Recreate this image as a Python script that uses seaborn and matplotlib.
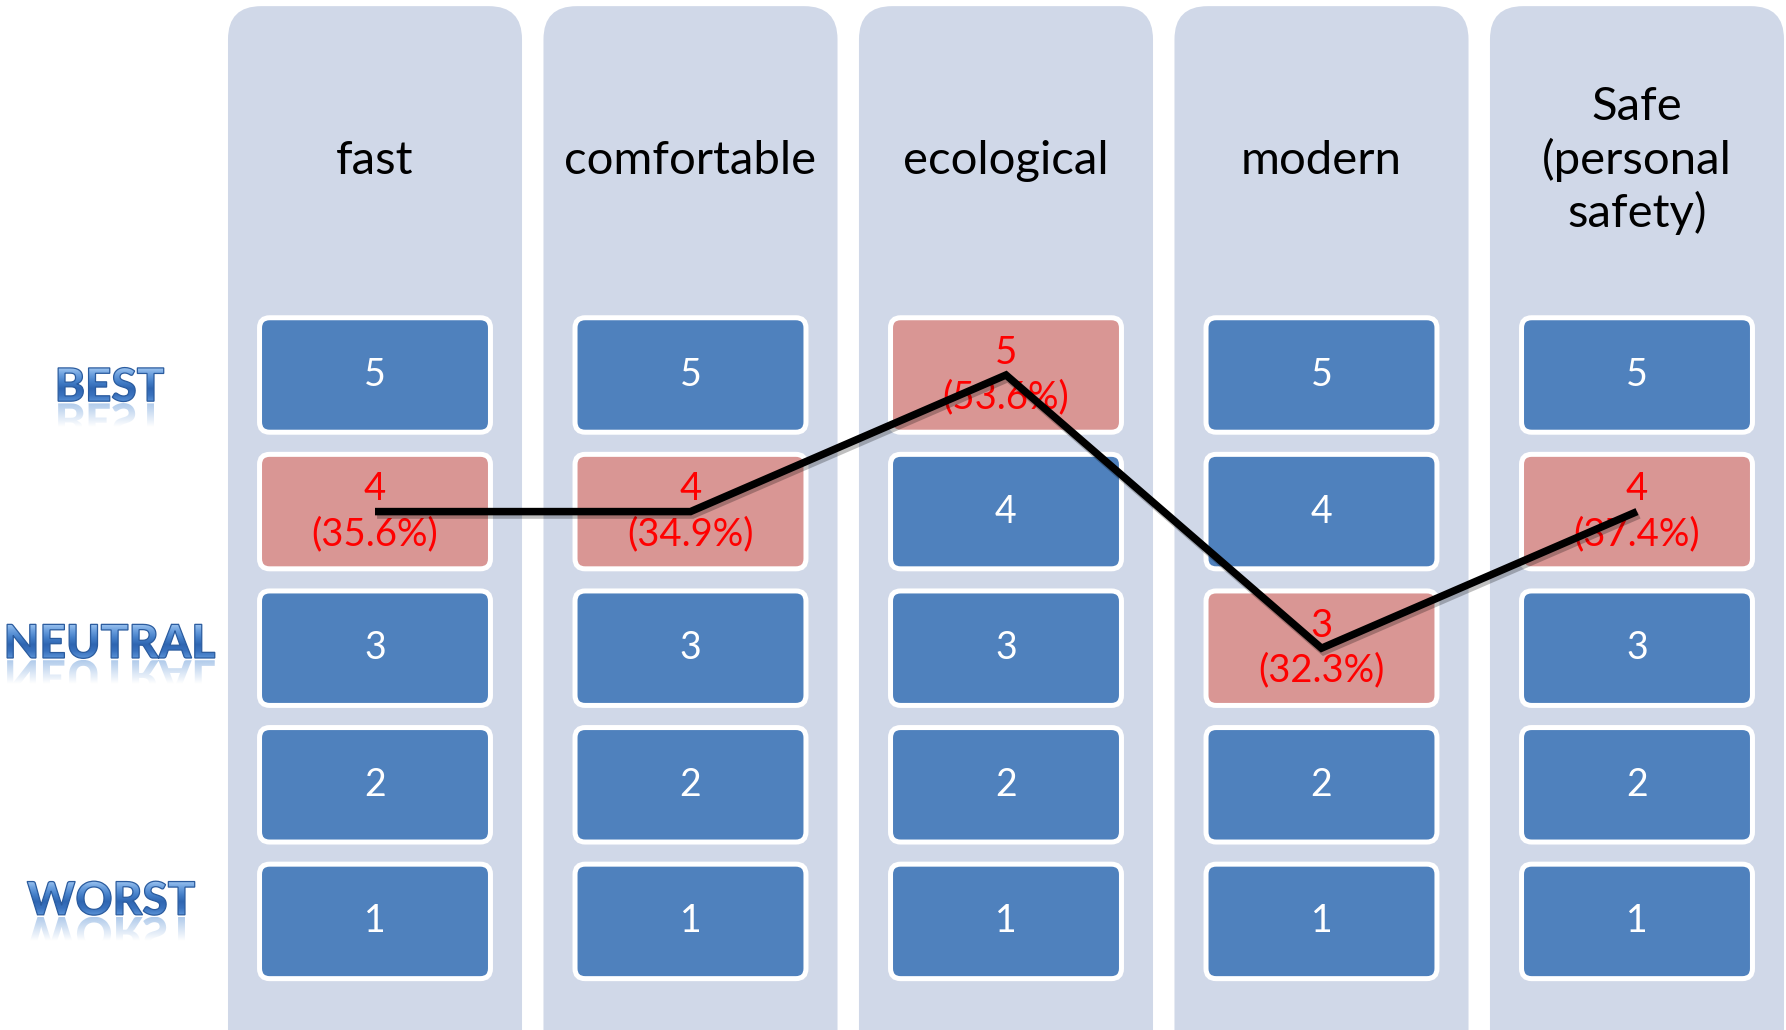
import numpy as np
import pandas as pd
import matplotlib
matplotlib.use("Agg")
import matplotlib.pyplot as plt
import seaborn as sns
from matplotlib.patches import FancyBboxPatch, PathPatch
from matplotlib.textpath import TextPath
from matplotlib.font_manager import FontProperties
from matplotlib.colors import LinearSegmentedColormap, to_rgb
import matplotlib.transforms as mtransforms
import matplotlib.patheffects as pe

# ---- data -------------------------------------------------------------
categories = ["fast", "comfortable", "ecological", "modern", "Safe\n(personal\nsafety)"]
scale_points = [1, 2, 3, 4, 5]
top_rating = [4, 4, 5, 3, 4]            # most frequent rating per attribute
top_share = [35.6, 34.9, 53.6, 32.3, 37.4]  # share of respondents (%)
scale_labels = ["BEST", "NEUTRAL", "WORST"]
scale_label_levels = [4.93, 3.05, 1.17]

# ---- style ------------------------------------------------------------
PANEL = "#D0D8E8"
BLUE = "#4F81BD"
PINK = "#D99694"
RED = "#FF0000"

sns.set_theme(style="white")
plt.rcParams["font.family"] = ["Lato", "DejaVu Sans"]

W, H, DPI = 17.86, 10.30, 100
XLIM = (-1.1886, 4.4723)
YLIM = (0.205, 7.745)

fig = plt.figure(figsize=(W, H), dpi=DPI)
ax = fig.add_axes([0, 0, 1, 1])
ax.set_xlim(*XLIM)
ax.set_ylim(*YLIM)
ax.axis("off")

# pixel size of one data unit, used to keep rounded corners circular
px_x = W * DPI / (XLIM[1] - XLIM[0])
px_y = H * DPI / (YLIM[1] - YLIM[0])
aspect = px_x / px_y

# ---- column panels and rating cells -------------------------------------
for i, cat in enumerate(categories):
    ax.add_patch(FancyBboxPatch((i - 0.466, -0.3), 0.932, 8.0,
                                boxstyle="round,pad=0,rounding_size=0.105",
                                mutation_aspect=aspect, fc=PANEL, ec="none", zorder=1))
    ax.text(i, 6.57, cat, ha="center", va="center", fontsize=34, color="black",
            linespacing=1.27, zorder=3)
    for p in scale_points:
        hit = p == top_rating[i]
        ax.add_patch(FancyBboxPatch((i - 0.366, p - 0.419), 0.732, 0.838,
                                    boxstyle="round,pad=0,rounding_size=0.032",
                                    mutation_aspect=aspect,
                                    fc=PINK if hit else BLUE, ec="white", lw=3.6, zorder=2))
        if hit:
            ax.text(i, p, f"{p}\n({top_share[i]:.1f}%)", ha="center", va="center",
                    fontsize=27.5, color=RED, linespacing=1.3, zorder=3)
        else:
            ax.text(i, p, str(p), ha="center", va="center", fontsize=27,
                    color="white", zorder=3)

# ---- profile line through the most frequent ratings -----------------------
df = pd.DataFrame({"pos": np.arange(len(categories)), "rating": top_rating})
sns.lineplot(data=df, x="pos", y="rating", color="black", lw=5.4, sort=False,
             estimator=None, ax=ax, zorder=6)
line = ax.lines[-1]
line.set_solid_joinstyle("miter")
line.set_solid_capstyle("butt")
line.set_path_effects([pe.SimpleLineShadow(offset=(1.5, -2.5), alpha=0.25, shadow_color="black"),
                       pe.Normal()])
ax.set_xlim(*XLIM)
ax.set_ylim(*YLIM)
ax.axis("off")

# ---- glossy scale labels with reflection --------------------------------
glyph_cmap = LinearSegmentedColormap.from_list(
    "gloss", ["#9CC4F0", "#6A9EDD", "#4580C9", "#2F66B2", "#3A72BE", "#5A92D6"])


def glossy_label(text, x, y, cap_px, xstretch=1.0):
    fp = FontProperties(family="Lato", weight="black")
    tp = TextPath((0, 0), text, size=100, prop=fp)
    ext = tp.get_extents()
    k = cap_px / ext.height
    cx, cy = ax.transData.transform((x, y))
    to_disp = (mtransforms.Affine2D()
               .translate(-(ext.x0 + ext.x1) / 2, -(ext.y0 + ext.y1) / 2)
               .scale(k * xstretch, k)
               .translate(cx, cy))
    inv = ax.transData.inverted()
    glyph = (to_disp + inv).transform_path(tp)
    half_w = ext.width * k * xstretch / 2
    top, bot = cy + cap_px / 2, cy - cap_px / 2
    (x0, y_top), = inv.transform([(cx - half_w, top)])
    (x1, y_bot), = inv.transform([(cx + half_w, bot)])

    patch = PathPatch(glyph, fc="none", ec="#2A5B9E", lw=0.9, transform=ax.transData, zorder=4)
    ax.add_patch(patch)
    grad = np.linspace(0, 1, 256).reshape(-1, 1)
    im = ax.imshow(grad, cmap=glyph_cmap, aspect="auto", extent=(x0, x1, y_bot, y_top),
                   origin="upper", zorder=3.9, interpolation="bilinear")
    im.set_clip_path(patch)

    # mirrored copy below the baseline, fading out
    gap = 1.5
    mirror = (to_disp + mtransforms.Affine2D().translate(0, -bot).scale(1, -1)
              .translate(0, bot - gap) + inv)
    refl = PathPatch(mirror.transform_path(tp), fc="none", ec="none",
                     transform=ax.transData, zorder=3.8)
    ax.add_patch(refl)
    (_, y_rb), = inv.transform([(cx, bot - gap - cap_px)])
    (_, y_rt), = inv.transform([(cx, bot - gap)])
    rgba = np.zeros((256, 1, 4))
    rgba[..., :3] = to_rgb("#6E9FDA")
    a = np.clip(0.55 * (1 - np.linspace(0, 1, 256) / 0.7), 0, None)
    rgba[:, 0, 3] = a
    im2 = ax.imshow(rgba, aspect="auto", extent=(x0, x1, y_rb, y_rt), origin="upper",
                    zorder=3.8, interpolation="bilinear")
    im2.set_clip_path(refl)


label_x = -0.837
for lab, lev in zip(scale_labels, scale_label_levels):
    glossy_label(lab, label_x, lev, cap_px=34)

ax.set_xlim(*XLIM)
ax.set_ylim(*YLIM)
fig.savefig("out.png", dpi=DPI, facecolor="white")
